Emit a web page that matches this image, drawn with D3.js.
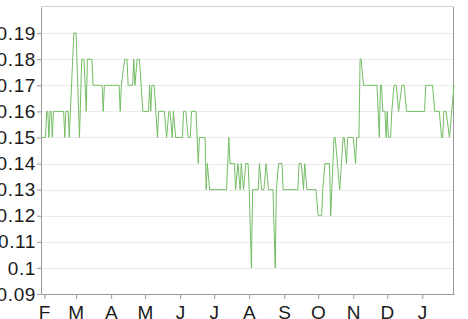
<!DOCTYPE html>
<html>
<head>
<meta charset="utf-8">
<script src="https://cdn.jsdelivr.net/npm/d3@7"></script>
<style>
body { margin: 0; background: #fff; }
svg { display: block; }
</style>
</head>
<body>
<div id="chart"></div>
<script>
// daily series at the points where the line turns
var startDate = new Date(Date.UTC(2013, 0, 29))
var endDate = new Date(Date.UTC(2014, 0, 29))

// days counted from startDate
var days = [0, 4, 5, 6, 7, 8, 9, 10, 11, 20, 21, 22, 24, 25, 29, 31, 34, 36, 38, 40,
    41, 45, 46, 54, 55, 56, 69, 70, 71, 74, 76, 77, 81, 82, 83, 85, 87, 90, 95, 96,
    97, 98, 100, 103, 104, 109, 111, 113, 114, 116, 117, 119, 125, 126, 128, 130, 132, 133, 137, 139,
    140, 145, 146, 147, 149, 164, 166, 167, 171, 172, 174, 176, 177, 179, 181, 183, 184, 186, 187, 192,
    193, 195, 197, 199, 201, 205, 207, 208, 210, 213, 214, 227, 228, 230, 232, 233, 235, 243, 245, 248,
    249, 251, 255, 256, 259, 260, 264, 267, 268, 270, 271, 276, 278, 279, 281, 282, 283, 285, 297, 299,
    300, 301, 302, 304, 305, 306, 307, 309, 310, 312, 314, 316, 319, 321, 323, 339, 340, 346, 348, 352,
    354, 355, 356, 358, 361, 365]

var values = [0.15, 0.15, 0.16, 0.16, 0.15, 0.16, 0.16, 0.15, 0.16, 0.16, 0.15, 0.16, 0.16, 0.15, 0.19, 0.19, 0.15, 0.18, 0.18, 0.16,
    0.18, 0.18, 0.17, 0.17, 0.16, 0.17, 0.17, 0.16, 0.17, 0.18, 0.18, 0.17, 0.17, 0.18, 0.17, 0.18, 0.18, 0.16, 0.16, 0.17,
    0.16, 0.17, 0.17, 0.15, 0.16, 0.16, 0.15, 0.16, 0.16, 0.15, 0.16, 0.15, 0.15, 0.16, 0.16, 0.15, 0.15, 0.16, 0.16, 0.14,
    0.15, 0.15, 0.13, 0.14, 0.13, 0.13, 0.15, 0.14, 0.14, 0.13, 0.14, 0.13, 0.14, 0.13, 0.14, 0.14, 0.13, 0.10, 0.13, 0.13,
    0.14, 0.13, 0.13, 0.14, 0.13, 0.13, 0.10, 0.13, 0.14, 0.14, 0.13, 0.13, 0.14, 0.14, 0.13, 0.14, 0.13, 0.13, 0.12, 0.12,
    0.13, 0.14, 0.14, 0.12, 0.15, 0.15, 0.13, 0.15, 0.15, 0.14, 0.15, 0.15, 0.14, 0.15, 0.15, 0.18, 0.18, 0.17, 0.17, 0.15,
    0.17, 0.17, 0.16, 0.16, 0.15, 0.16, 0.15, 0.15, 0.16, 0.17, 0.17, 0.16, 0.17, 0.17, 0.16, 0.16, 0.17, 0.17, 0.16, 0.16,
    0.15, 0.15, 0.16, 0.16, 0.15, 0.17]

// axis ticks
var monthTicks = ["2013-02-01", "2013-03-01", "2013-04-01", "2013-05-01", "2013-06-01", "2013-07-01",
    "2013-08-01", "2013-09-01", "2013-10-01", "2013-11-01", "2013-12-01", "2014-01-01"]
var monthLabels = ["F", "M", "A", "M", "J", "J", "A", "S", "O", "N", "D", "J"]
var yTicks = [0.09, 0.10, 0.11, 0.12, 0.13, 0.14, 0.15, 0.16, 0.17, 0.18, 0.19]
var yTickLabels = ["0.09", "0.1", "0.11", "0.12", "0.13", "0.14", "0.15", "0.16", "0.17", "0.18", "0.19"]

var width = 468
var height = 319
var margin = ({
    top: 7,
    right: 14,
    bottom: 25,
    left: 41
})

var parseDate = d3.utcParse("%Y-%m-%d")
var data = days.map((d, i) => ({
    date: d3.utcDay.offset(startDate, d),
    value: values[i]
}))

var svg = d3.select("#chart")
    .append("svg")
    .attr("width", width)
    .attr("height", height)
    .style("font-family", "'Helvetica Neue', Helvetica, Arial, sans-serif")

var x = d3.scaleUtc()
    .domain([startDate, endDate])
    .range([margin.left, width - margin.right])

var y = d3.scaleLinear()
    .domain([0.09, 0.2])
    .range([height - margin.bottom, margin.top])

// grid lines
svg.append("g")
    .selectAll("line")
    .data(yTicks.slice(1))
    .join("line")
    .attr("x1", margin.left)
    .attr("x2", width - margin.right)
    .attr("y1", d => Math.round(y(d)) + 0.5)
    .attr("y2", d => Math.round(y(d)) + 0.5)
    .attr("stroke", "#ebebeb")

// frame: top and right
svg.append("line")
    .attr("x1", margin.left)
    .attr("x2", width - margin.right)
    .attr("y1", Math.round(y(0.2)) - 0.5)
    .attr("y2", Math.round(y(0.2)) - 0.5)
    .attr("stroke", "#cfcfcf")

svg.append("line")
    .attr("x1", width - margin.right - 0.5)
    .attr("x2", width - margin.right - 0.5)
    .attr("y1", y(0.2))
    .attr("y2", height - margin.bottom)
    .attr("stroke", "#999")

var labelStyle = g => g.selectAll("text")
    .attr("font-size", 19)
    .attr("letter-spacing", 0.6)
    .attr("fill", "#1a1a1a")
    .attr("font-family", null)

var xAxis = g => g
    .attr("transform", `translate(0,${height - margin.bottom})`)
    .call(d3.axisBottom(x)
        .tickValues(monthTicks.map(parseDate))
        .tickFormat((d, i) => monthLabels[i])
        .tickSize(5)
        .tickSizeOuter(0)
        .tickPadding(7))
    .call(g => g.select(".domain").attr("stroke", "#999"))
    .call(g => g.selectAll(".tick line").attr("stroke", "#999"))
    .call(labelStyle)

var yAxis = g => g
    .attr("transform", `translate(${margin.left},0)`)
    .call(d3.axisLeft(y)
        .tickValues(yTicks)
        .tickFormat((d, i) => yTickLabels[i])
        .tickSize(4)
        .tickSizeOuter(0)
        .tickPadding(1))
    .call(g => g.select(".domain").attr("stroke", "#999"))
    .call(g => g.selectAll(".tick line").attr("stroke", "#999"))
    .call(labelStyle)

svg.append("g").call(xAxis)
svg.append("g").call(yAxis)

var line = d3.line()
    .x(d => x(d.date))
    .y(d => y(d.value))

svg.append("path")
    .datum(data)
    .attr("fill", "none")
    .attr("stroke", "#74bd64")
    .attr("stroke-width", 1)
    .attr("stroke-linejoin", "round")
    .attr("d", line)
</script>
</body>
</html>
